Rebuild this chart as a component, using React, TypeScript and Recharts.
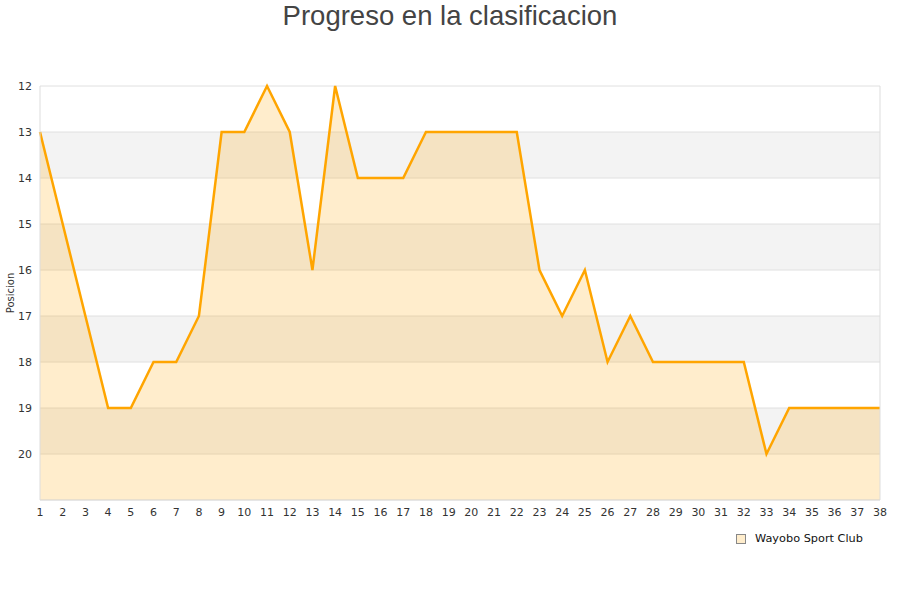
import React from "react";
import { Area, AreaChart, CartesianGrid, Legend, ReferenceLine, XAxis, YAxis } from "recharts";

const TITLE = "Progreso en la clasificacion";
const SERIES_NAME = "Wayobo Sport Club";

const jornadas = [
  1, 2, 3, 4, 5, 6, 7, 8, 9, 10, 11, 12, 13, 14, 15, 16, 17, 18, 19,
  20, 21, 22, 23, 24, 25, 26, 27, 28, 29, 30, 31, 32, 33, 34, 35, 36, 37, 38
];
const posiciones = [
  13, 15, 17, 19, 19, 18, 18, 17, 13, 13, 12, 13, 16, 12, 14, 14, 14, 13, 13,
  13, 13, 13, 16, 17, 16, 18, 17, 18, 18, 18, 18, 18, 20, 19, 19, 19, 19, 19
];
const yTicks = [12, 13, 14, 15, 16, 17, 18, 19, 20];

const data = jornadas.map((j, i) => ({ jornada: j, pos: posiciones[i] }));

const FONT = "'DejaVu Sans', sans-serif";
const ORANGE = "#ffa500";

function LegendBox() {
  return (
    <div style={{ display: "flex", alignItems: "center", fontFamily: FONT, fontSize: 11.3, color: "#111" }}>
      <span
        style={{
          display: "inline-block",
          width: 8,
          height: 8,
          background: "#ffedcc",
          border: "1px solid #888",
          marginRight: 9
        }}
      />
      {SERIES_NAME}
    </div>
  );
}

export default function App() {
  return (
    <div style={{ position: "absolute", left: 0, top: 0, width: 900, height: 600, background: "#fff" }}>
      <div
        style={{
          position: "absolute",
          top: 0,
          width: 900,
          textAlign: "center",
          fontFamily: "'Liberation Sans', Arial, sans-serif",
          fontSize: 27.5,
          color: "#444",
          lineHeight: "31px"
        }}
      >
        {TITLE}
      </div>
      <AreaChart width={900} height={600} data={data} margin={{ top: 86, right: 20, bottom: 70, left: 0 }}>
        <CartesianGrid
          vertical={false}
          stroke="#e0e0e0"
          horizontalFill={["#ffffff", "#f3f3f3"]}
          fillOpacity={1}
        />
        <XAxis
          dataKey="jornada"
          height={30}
          tickLine={false}
          axisLine={{ stroke: "#dddddd" }}
          interval={0}
          tick={{ fontSize: 11, fill: "#333", fontFamily: FONT }}
        />
        <YAxis
          width={40}
          reversed
          type="number"
          domain={[12, 21]}
          ticks={yTicks}
          interval={0}
          tickLine={false}
          axisLine={{ stroke: "#dddddd" }}
          tick={{ fontSize: 11, fill: "#333", fontFamily: FONT }}
          label={{
            value: "Posicion",
            angle: -90,
            position: "insideLeft",
            offset: 0,
            dx: 10,
            style: { fontSize: 10, fill: "#333", fontFamily: FONT, textAnchor: "middle" }
          }}
        />
        <ReferenceLine x={38} stroke="#dddddd" />
        <Area
          type="linear"
          dataKey="pos"
          name={SERIES_NAME}
          baseValue={21}
          stroke={ORANGE}
          strokeWidth={2.5}
          fill={ORANGE}
          fillOpacity={0.2}
          dot={false}
          activeDot={false}
          isAnimationActive={false}
        />
        <Legend
          layout="horizontal"
          verticalAlign="middle"
          align="center"
          content={() => <LegendBox />}
          wrapperStyle={{ position: "absolute", left: 736, top: 532, width: "auto" }}
        />
      </AreaChart>
    </div>
  );
}
